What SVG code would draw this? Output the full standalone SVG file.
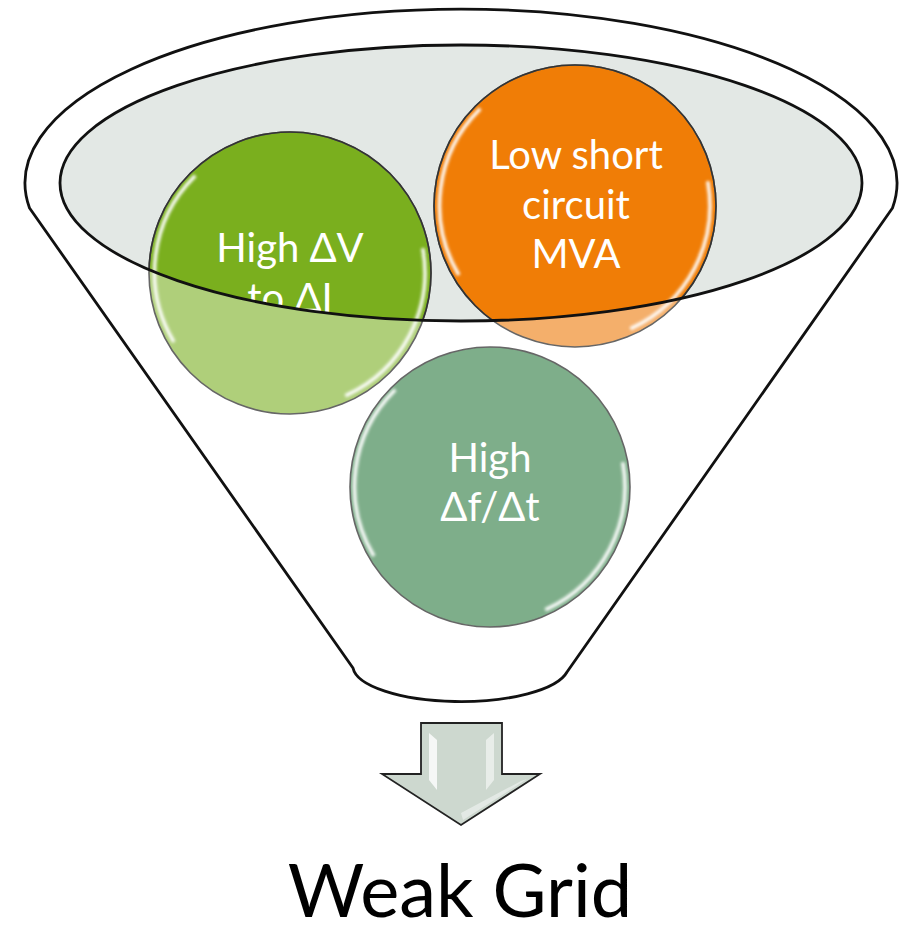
<svg xmlns="http://www.w3.org/2000/svg" width="900" height="927" viewBox="0 0 900 927">
  <style>
    .outline { fill: none; stroke: #111; stroke-width: 2.8; stroke-linejoin: round; }
    .ring { fill: none; stroke: #333; stroke-width: 1.6; }
    .ring-out { fill: none; stroke: #666; stroke-width: 1.6; }
    .label { font-family: Lato, "Open Sans", "Liberation Sans", sans-serif; font-size: 40px; fill: #ffffff; text-anchor: middle; }
    .title { font-family: Lato, "Open Sans", "Liberation Sans", sans-serif; font-size: 74px; fill: #000000; text-anchor: middle; }
  </style>
  <defs>
    <clipPath id="mouth">
      <ellipse cx="461" cy="183" rx="401" ry="138"/>
    </clipPath>
    <filter id="soft" x="-20%" y="-20%" width="140%" height="140%">
      <feGaussianBlur stdDeviation="1.3"/>
    </filter>
    <!-- glassy rim highlights, drawn around the origin -->
    <g id="rim" filter="url(#soft)" fill="none" stroke="#ffffff" stroke-linecap="round">
      <path d="M -96 -96 A 135 135 0 0 0 -117 67.5" stroke-width="6" stroke-opacity="0.35"/>
      <path d="M -96 -96 A 135 135 0 0 0 -117 67.5" stroke-width="2.5" stroke-opacity="0.85"/>
      <path d="M 133 -23 A 135 135 0 0 1 57 122" stroke-width="6" stroke-opacity="0.35"/>
      <path d="M 133 -23 A 135 135 0 0 1 57 122" stroke-width="2.5" stroke-opacity="0.85"/>
    </g>
  </defs>

  <rect width="900" height="927" fill="#ffffff"/>

  <!-- funnel body -->
  <g id="funnel">
    <path class="outline" fill="#ffffff" d="M 29.5 208 A 436 174 0 1 1 892.5 208 L 567 672 A 108 36 0 0 1 353 668 Z"/>
    <ellipse cx="461" cy="183" rx="401" ry="138" fill="#e3e8e5"/>
  </g>

  <!-- node: voltage sensitivity -->
  <g id="node-dv-di">
    <circle cx="290" cy="273" r="141" fill="#afcf7a"/>
    <circle cx="290" cy="273" r="141" fill="#7aaf1e" clip-path="url(#mouth)"/>
    <use href="#rim" transform="translate(290 273)"/>
    <circle class="ring-out" cx="290" cy="273" r="141"/>
    <circle class="ring" cx="290" cy="273" r="141" clip-path="url(#mouth)"/>
    <g clip-path="url(#mouth)">
      <text class="label" x="290" y="262">High ΔV</text>
      <text class="label" x="290" y="312">to ΔI</text>
    </g>
  </g>

  <!-- node: short circuit level -->
  <g id="node-scmva">
    <circle cx="575" cy="206" r="141" fill="#f4af6b"/>
    <circle cx="575" cy="206" r="141" fill="#f07d06" clip-path="url(#mouth)"/>
    <use href="#rim" transform="translate(575 206)"/>
    <circle class="ring-out" cx="575" cy="206" r="141"/>
    <circle class="ring" cx="575" cy="206" r="141" clip-path="url(#mouth)"/>
    <text class="label" x="576" y="169">Low short</text>
    <text class="label" x="576" y="219">circuit</text>
    <text class="label" x="576" y="268">MVA</text>
  </g>

  <!-- node: rate of change of frequency -->
  <g id="node-rocof">
    <circle cx="490" cy="487" r="140" fill="#7eae8a"/>
    <use href="#rim" transform="translate(490 487)"/>
    <circle class="ring-out" cx="490" cy="487" r="140"/>
    <text class="label" x="490" y="472">High</text>
    <text class="label" x="490" y="521">Δf/Δt</text>
  </g>

  <!-- rim of the funnel mouth, over the circles -->
  <g id="mouth-rim">
    <ellipse class="outline" cx="461" cy="183" rx="401" ry="138"/>
  </g>

  <!-- output arrow -->
  <g id="connectors">
    <g id="flow-arrow">
      <path d="M 421 723 L 502 723 L 502 774 L 540 774 L 461 825 L 382 774 L 421 774 Z" fill="#cdd8cf" stroke="#222" stroke-width="1.8" stroke-linejoin="miter"/>
      <path d="M 429 733 L 437 740 L 437 790 L 429 780 Z" fill="#ffffff" fill-opacity="0.8"/>
      <path d="M 494 733 L 486 740 L 486 790 L 494 780 Z" fill="#ffffff" fill-opacity="0.55"/>
      <path d="M 461 813 L 521 781 L 527 779 L 463 820 Z" fill="#ffffff" fill-opacity="0.45"/>
    </g>
  </g>

  <g id="result">
    <text class="title" x="460" y="917">Weak Grid</text>
  </g>
</svg>
